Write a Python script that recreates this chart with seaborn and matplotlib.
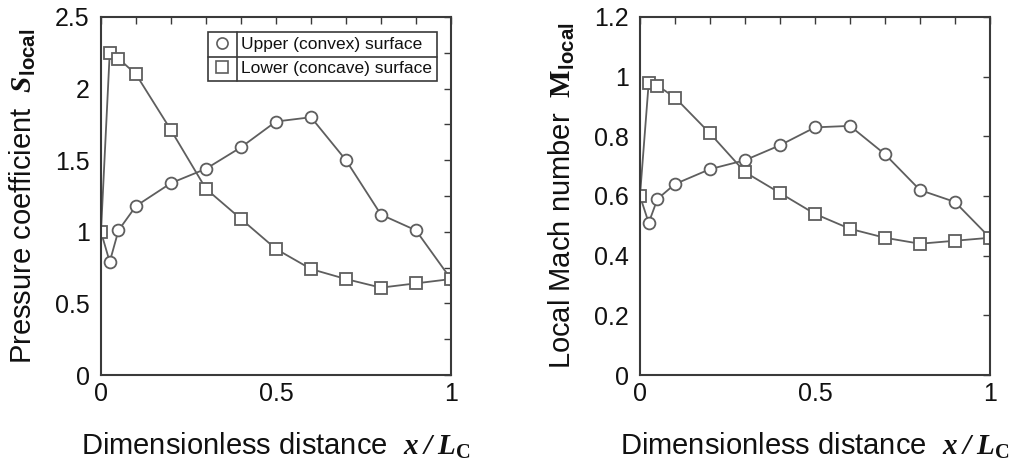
import matplotlib
matplotlib.use("Agg")
import matplotlib.pyplot as plt
from matplotlib.lines import Line2D
from matplotlib.ticker import MultipleLocator, StrMethodFormatter, NullLocator
import seaborn as sns

# Chordwise stations along the blade surface
x_pos = [0, 0.025, 0.05, 0.1, 0.2, 0.3, 0.4, 0.5, 0.6, 0.7, 0.8, 0.9, 1.0]

# Pressure coefficient
s_upper = [1.0, 0.79, 1.01, 1.18, 1.34, 1.44, 1.59, 1.77, 1.80, 1.50, 1.12, 1.01, 0.67]
s_lower = [1.0, 2.25, 2.21, 2.10, 1.71, 1.30, 1.09, 0.88, 0.74, 0.67, 0.61, 0.64, 0.67]

# Local Mach number
m_upper = [0.60, 0.51, 0.59, 0.64, 0.69, 0.72, 0.77, 0.83, 0.835, 0.74, 0.62, 0.58, 0.46]
m_lower = [0.60, 0.98, 0.97, 0.93, 0.81, 0.68, 0.61, 0.54, 0.49, 0.46, 0.44, 0.45, 0.46]

series_labels = ["Upper (convex) surface", "Lower (concave) surface"]

sns.set_style("white")
plt.rcParams.update({
    "font.family": ["Liberation Sans", "DejaVu Sans"],
    "mathtext.fontset": "custom",
    "mathtext.rm": "Liberation Serif",
    "mathtext.it": "Liberation Serif:italic",
    "mathtext.bf": "Liberation Serif:bold",
    "mathtext.bfit": "Liberation Serif:italic:bold",
    "mathtext.sf": "Liberation Sans:bold",
    "text.color": "#111111",
    "axes.labelcolor": "#111111",
    "xtick.color": "#333333",
    "ytick.color": "#333333",
    "xtick.labelcolor": "#111111",
    "ytick.labelcolor": "#111111",
})

LINE_C = "#5e5e5e"
SPINE_C = "#3a3a3a"

fig = plt.figure(figsize=(10.21, 4.68), dpi=100)
ax1 = fig.add_axes([0.0989, 0.1987, 0.3428, 0.765])
ax2 = fig.add_axes([0.6268, 0.1987, 0.3428, 0.765])


def draw_series(ax, y_up, y_low):
    sns.lineplot(x=x_pos, y=y_up, ax=ax, color=LINE_C, lw=1.3, marker="o",
                 ms=8.5, mfc="white", mec=LINE_C, mew=1.3,
                 markevery=list(range(1, len(x_pos))), sort=False,
                 errorbar=None)
    sns.lineplot(x=x_pos, y=y_low, ax=ax, color=LINE_C, lw=1.3, marker="s",
                 ms=8.0, mfc="white", mec=LINE_C, mew=1.3, sort=False,
                 errorbar=None)


def style_axes(ax, ymax, ymajor, yminor):
    ax.set_xlim(0, 1)
    ax.set_ylim(0, ymax)
    ax.xaxis.set_major_locator(MultipleLocator(0.5))
    ax.xaxis.set_minor_locator(MultipleLocator(0.1))
    ax.yaxis.set_major_locator(MultipleLocator(ymajor))
    if yminor:
        ax.yaxis.set_minor_locator(MultipleLocator(yminor))
    else:
        ax.yaxis.set_minor_locator(NullLocator())
    ax.xaxis.set_major_formatter(StrMethodFormatter("{x:g}"))
    ax.yaxis.set_major_formatter(StrMethodFormatter("{x:g}"))
    ax.tick_params(which="both", direction="in", top=True, right=True,
                   labelsize=18, width=1.0, color=SPINE_C)
    ax.tick_params(which="major", length=5)
    ax.tick_params(which="minor", length=5)
    ax.tick_params(axis="y", which="major", pad=8)
    ax.tick_params(axis="x", which="major", pad=5)
    for sp in ax.spines.values():
        sp.set_visible(True)
        sp.set_color(SPINE_C)
        sp.set_linewidth(1.5)
    ax.set_xlabel(r"Dimensionless distance  $\mathbfit{x\;/\;L}_{\mathbf{C}}$",
                  fontsize=21, labelpad=18)


draw_series(ax1, s_upper, s_lower)
draw_series(ax2, m_upper, m_lower)
style_axes(ax1, 2.5, 0.5, 0.25)
style_axes(ax2, 1.2, 0.2, None)
ax1.set_ylabel(r"Pressure coefficient  $\mathbfit{S}_{\mathsf{local}}$",
               fontsize=21, labelpad=12)
ax2.set_ylabel(r"Local Mach number  $\mathbf{M}_{\mathsf{local}}$",
               fontsize=21, labelpad=12)

handles = [
    Line2D([], [], ls="none", marker="o", ms=8, mfc="white", mec=LINE_C, mew=1.2),
    Line2D([], [], ls="none", marker="s", ms=8, mfc="white", mec=LINE_C, mew=1.2),
]
leg = ax1.legend(handles, series_labels, loc="upper right",
                 bbox_to_anchor=(0.96, 0.958), borderaxespad=0,
                 fancybox=False, framealpha=1, edgecolor=SPINE_C,
                 fontsize=12.5, handlelength=1.0, handletextpad=0.6,
                 borderpad=0.3, labelspacing=0.5)
leg.get_frame().set_linewidth(1.2)

# Grid lines inside the legend box: one column divider and one row divider
fig.canvas.draw()
rend = fig.canvas.get_renderer()
bb = leg.get_frame().get_window_extent(rend)
t0 = leg.get_texts()[0].get_window_extent(rend)
t1 = leg.get_texts()[1].get_window_extent(rend)
W, H = fig.bbox.width, fig.bbox.height
xdiv = t0.x0 - 4
ydiv = (t0.y0 + t1.y1) / 2
fig.add_artist(Line2D([xdiv / W, xdiv / W], [bb.y0 / H, bb.y1 / H],
                      transform=fig.transFigure, color=SPINE_C, lw=1.2))
fig.add_artist(Line2D([bb.x0 / W, bb.x1 / W], [ydiv / H, ydiv / H],
                      transform=fig.transFigure, color=SPINE_C, lw=1.2))

fig.savefig("out.png", dpi=100)
